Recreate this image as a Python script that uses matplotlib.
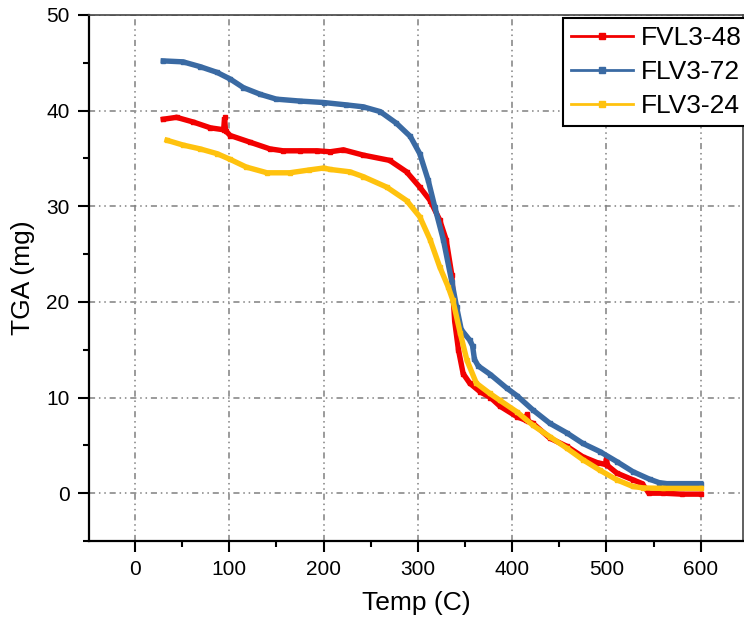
import matplotlib
matplotlib.use("Agg")
import matplotlib.pyplot as plt
from matplotlib.lines import Line2D
from matplotlib.ticker import MultipleLocator

plt.rcParams["font.family"] = ["Liberation Sans", "DejaVu Sans"]

# data
temp_48 = [30, 44, 62, 80, 94, 95, 96, 101, 122, 143, 157, 175, 193, 207, 221, 242,
           270, 288, 302, 313, 323, 330, 336, 339, 343, 348, 355, 366, 377, 387,
           405, 415, 416, 417, 422, 440, 458, 475, 490, 499, 500, 501, 511, 528,
           538, 545, 560, 580, 600]
tga_48 = [39.1, 39.3, 38.8, 38.2, 38.0, 39.3, 37.9, 37.4, 36.7, 36.0, 35.8, 35.8,
          35.8, 35.7, 35.9, 35.35, 34.8, 33.6, 32.0, 30.6, 28.6, 26.5, 22.8, 18.0,
          15.0, 12.5, 11.5, 10.6, 10.0, 9.1, 8.0, 7.6, 8.3, 7.5, 7.3, 5.75, 4.9,
          3.8, 3.2, 3.0, 3.6, 2.9, 2.1, 1.4, 1.0, 0.0, 0.0, -0.1, -0.1]

temp_72 = [30, 51, 69, 87, 101, 115, 133, 150, 175, 200, 224, 242, 260, 277, 292,
           302, 311, 318, 327, 336, 341, 346, 355, 358, 360, 364, 377, 394, 405,
           422, 440, 458, 475, 493, 511, 528, 546, 556, 564, 600]
tga_72 = [45.2, 45.1, 44.6, 44.0, 43.3, 42.4, 41.7, 41.2, 41.0, 40.85, 40.6, 40.4,
          39.9, 38.7, 37.3, 35.5, 32.7, 29.9, 26.5, 22.1, 19.5, 17.1, 16.0, 15.4,
          14.0, 13.3, 12.4, 11.0, 10.2, 8.7, 7.3, 6.3, 5.2, 4.35, 3.3, 2.25, 1.45,
          1.1, 1.0, 1.0]

temp_24 = [34, 51, 69, 87, 101, 118, 140, 164, 185, 200, 207, 228, 242, 267, 288,
           302, 313, 323, 332, 337, 345, 352, 362, 376, 387, 405, 422, 440, 458,
           475, 493, 511, 528, 539, 560, 600]
tga_24 = [36.9, 36.4, 36.0, 35.5, 34.9, 34.1, 33.5, 33.5, 33.8, 34.0, 33.85, 33.6,
          33.1, 32.0, 30.6, 28.9, 26.5, 23.7, 21.6, 20.2, 16.7, 13.9, 11.5, 10.45,
          9.7, 8.5, 7.1, 5.9, 4.7, 3.5, 2.4, 1.4, 0.7, 0.55, 0.5, 0.5]

labels = ["FVL3-48", "FLV3-72", "FLV3-24"]
colors = ["#f20000", "#3a6aa3", "#ffc20e"]

GRID_COLOR = "#808080"

fig = plt.figure(figsize=(7.44, 6.3), dpi=100)
ax = fig.add_axes([89 / 744, 89 / 630, 654 / 744, 526 / 630])

series = [(temp_48, tga_48), (temp_72, tga_72), (temp_24, tga_24)]
for (x, y), c in zip(series, colors):
    ax.plot(x, y, color=c, lw=3.9, marker="s", ms=3.0, solid_joinstyle="miter")

ax.set_xlim(-48.8, 644.8)
ax.set_ylim(-5, 50)
ax.xaxis.set_major_locator(MultipleLocator(100))
ax.xaxis.set_minor_locator(MultipleLocator(50))
ax.yaxis.set_major_locator(MultipleLocator(10))
ax.yaxis.set_minor_locator(MultipleLocator(5))

ax.grid(True, which="major", color=GRID_COLOR, lw=1.1,
        linestyle=(0, (4, 2.5, 1, 2.5, 1, 2.5)))
ax.set_axisbelow(True)

ax.tick_params(which="major", direction="out", length=8, width=1.5,
               labelsize=15, pad=6)
ax.tick_params(which="minor", direction="out", length=4, width=1.5)

for side in ["left", "bottom"]:
    ax.spines[side].set_linewidth(1.6)
    ax.spines[side].set_color("black")
for side in ["top", "right"]:
    ax.spines[side].set_linewidth(1.2)
    ax.spines[side].set_color("#444444")

ax.set_xlabel("Temp (C)", fontsize=19, labelpad=8)
ax.set_ylabel("TGA (mg)", fontsize=19, labelpad=8)

handles = [Line2D([], [], color=c, lw=2, marker="s", ms=4) for c in colors]
leg = ax.legend(handles, labels, loc="upper left",
                bbox_to_anchor=((563 - 89) / 654, (541 - 18) / 526),
                fontsize=19, frameon=True, fancybox=False, framealpha=1,
                borderpad=0.3, handlelength=2.35, handletextpad=0.3,
                labelspacing=0.38, borderaxespad=0)
leg.get_frame().set_edgecolor("black")
leg.get_frame().set_linewidth(1.5)

fig.savefig("out.png", dpi=100)
